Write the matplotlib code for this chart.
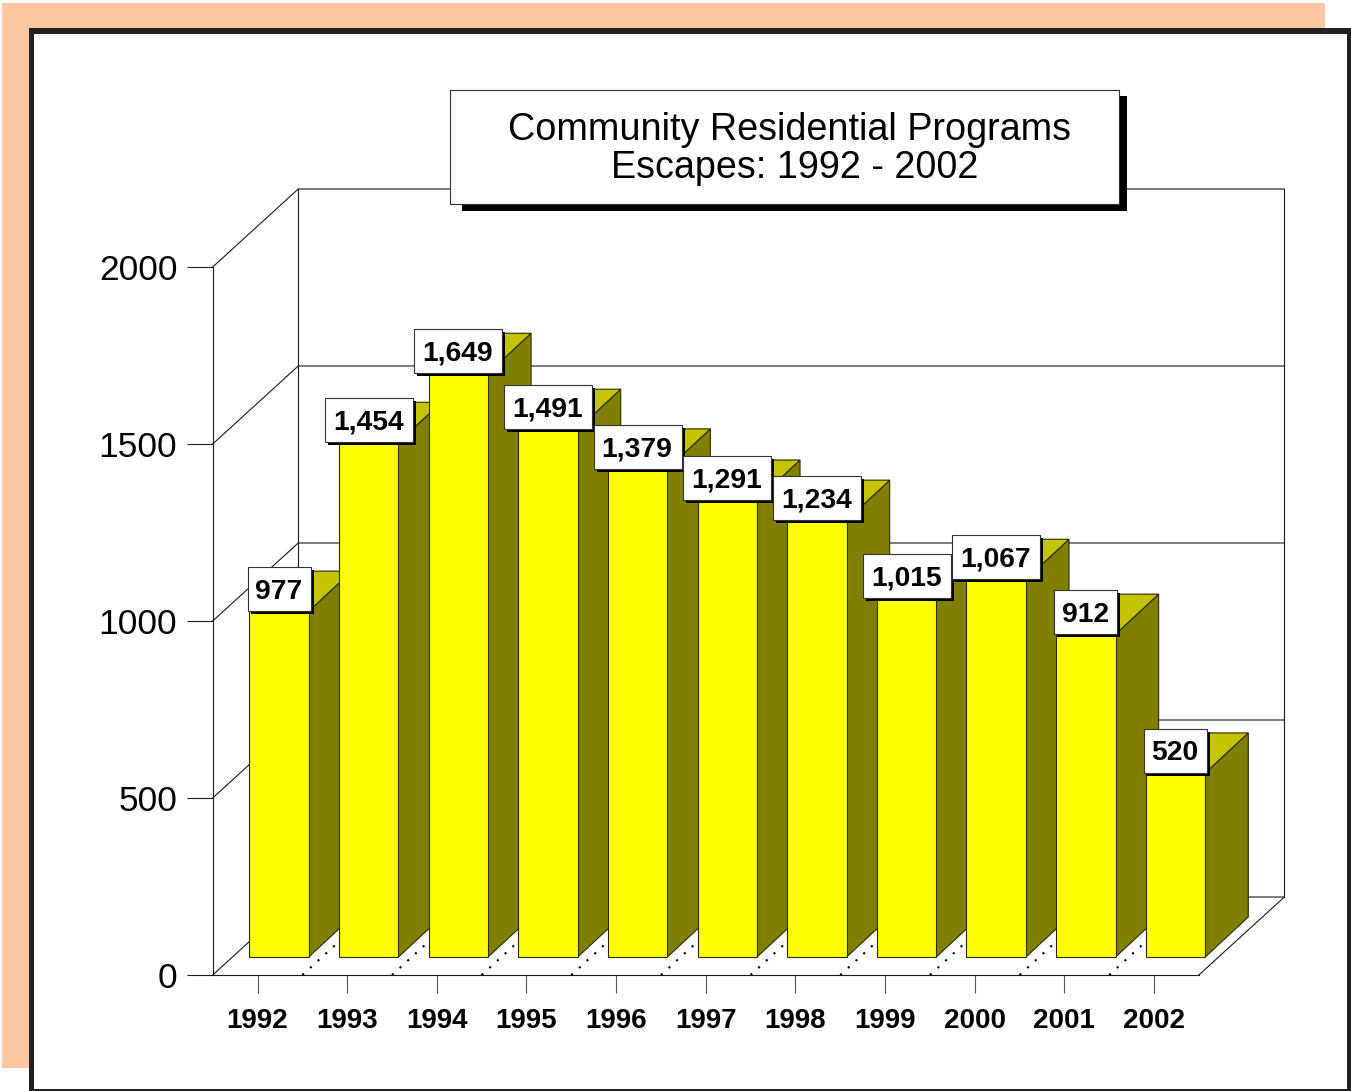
import matplotlib
matplotlib.use('Agg')
import matplotlib.pyplot as plt
from matplotlib.patches import Rectangle

plt.rcParams['font.family'] = ['Liberation Sans', 'DejaVu Sans']

# Chart data
years = ['1992', '1993', '1994', '1995', '1996', '1997', '1998', '1999', '2000', '2001', '2002']
escapes = [977, 1454, 1649, 1491, 1379, 1291, 1234, 1015, 1067, 912, 520]
y_ticks = [0, 500, 1000, 1500, 2000]
title_lines = ['Community Residential Programs', 'Escapes: 1992 - 2002']

W, H = 1351, 1091

# One pixel in data units of the front plane
PX_X = 1 / 89.65
PX_Y = 2000 / 708

# Depth of the whole floor, of the bars' front and of the bars themselves
FLOOR_DX, FLOOR_DY = 85.5 * PX_X, 78 * PX_Y
BAR_DX, BAR_DY = 21.5 * PX_X, 18 * PX_Y
SIDE_DX, SIDE_DY = 43 * PX_X, 40 * PX_Y
BAR_W = 59.5 * PX_X

INK = '#1a1a1a'
FRONT = '#ffff00'
SIDE = '#808000'
TOP = '#c4c400'

fig = plt.figure(figsize=(W / 100, H / 100), dpi=100, facecolor='white')

# Page decoration, drawn in pixel coordinates
bg = fig.add_axes([0, 0, 1, 1])
bg.set_xlim(0, W)
bg.set_ylim(H, 0)
bg.axis('off')
bg.add_patch(Rectangle((2, 3), 1323, 1065, fc='#fdc7a3', ec='none'))
bg.add_patch(Rectangle((28.5, 28.3), 1330, 1070, fc='#231f20', ec='none'))
bg.add_patch(Rectangle((34.3, 33.6), 1313, 1055.7, fc='white', ec='none'))

# Front plane of the chart
ax = fig.add_axes([212.7 / W, (H - 975) / H, 986.15 / W, 708 / H])
ax.patch.set_alpha(0)
ax.set_xlim(-0.5, 10.5)
ax.set_ylim(0, 2000)
for side in ['top', 'right']:
    ax.spines[side].set_visible(False)
for side in ['left', 'bottom']:
    ax.spines[side].set_linewidth(0.8)
    ax.spines[side].set_color(INK)

ax.set_xticks(range(len(years)))
ax.set_xticklabels(years, fontsize=20, fontweight='bold', color='black')
ax.set_yticks(y_ticks)
ax.set_yticklabels([str(t) for t in y_ticks], fontsize=25.5, color='black')
ax.tick_params(axis='x', length=13, width=0.8, color='#555555', pad=11)
ax.tick_params(axis='y', length=18.5, width=0.8, color=INK, pad=7)

line_kw = dict(color=INK, lw=0.8, clip_on=False, zorder=1)
x0, x1 = ax.get_xlim()

# Back wall and left wall
for t in y_ticks:
    ax.plot([x0, x0 + FLOOR_DX, x1 + FLOOR_DX], [t, t + FLOOR_DY, t + FLOOR_DY], **line_kw)
ax.plot([x0 + FLOOR_DX] * 2, [FLOOR_DY, 2000 + FLOOR_DY], **line_kw)
ax.plot([x1 + FLOOR_DX] * 2, [FLOOR_DY, 2000 + FLOOR_DY], **line_kw)
ax.plot([x1, x1 + FLOOR_DX], [0, FLOOR_DY], **line_kw)

# Dotted floor dividers between the categories
for i in range(len(years) - 1):
    ax.plot([i + 0.5, i + 0.5 + FLOOR_DX], [0, FLOOR_DY], color='black', lw=1.5,
            ls=(0, (1, 4)), clip_on=False, zorder=1)

# Bars, left to right so each one covers the side of the previous one
for i, v in enumerate(escapes):
    left = i + BAR_DX - BAR_W / 2
    right = left + BAR_W
    base = BAR_DY
    top = BAR_DY + v
    z = 2 + i * 0.1
    edge = dict(edgecolor='#2a2a00', linewidth=0.8, clip_on=False, zorder=z)
    ax.fill([right, right + SIDE_DX, right + SIDE_DX, right],
            [base, base + SIDE_DY, top + SIDE_DY, top], facecolor=SIDE, **edge)
    ax.fill([left, left + SIDE_DX, right + SIDE_DX, right],
            [top, top + SIDE_DY, top + SIDE_DY, top], facecolor=TOP, **edge)
    ax.bar(i + BAR_DX, v, BAR_W, bottom=base, color=FRONT, **edge)

# Value labels with a hard shadow
for i, v in enumerate(escapes):
    box_w = (63 if v < 1000 else 88) * PX_X
    box_h = 44 * PX_Y
    bx = i + BAR_DX - box_w / 2
    by = BAR_DY + v
    ax.add_patch(Rectangle((bx + 3 * PX_X, by - 3 * PX_Y), box_w, box_h, fc='black', ec='none',
                           clip_on=False, zorder=10))
    ax.add_patch(Rectangle((bx, by), box_w, box_h, fc='white', ec='#333333', lw=0.8,
                           clip_on=False, zorder=11))
    ax.text(bx + box_w / 2 - 0.5 * PX_X, by + box_h / 2 - 2.5 * PX_Y, format(v, ','), ha='center',
            va='center', fontsize=20.3, fontweight='bold', color='black', zorder=12)

# Title box on top of everything
top_ax = fig.add_axes([0, 0, 1, 1])
top_ax.set_xlim(0, W)
top_ax.set_ylim(H, 0)
top_ax.axis('off')
top_ax.add_patch(Rectangle((462, 96), 665, 114.5, fc='black', ec='none'))
top_ax.add_patch(Rectangle((450, 90), 669, 114, fc='white', ec='#333333', lw=0.8))
top_ax.text(789.5, 129.5, title_lines[0], ha='center', va='center', fontsize=27.2, color='black')
top_ax.text(795, 167.5, title_lines[1], ha='center', va='center', fontsize=27.2, color='black')

fig.savefig('out.png', dpi=100)
